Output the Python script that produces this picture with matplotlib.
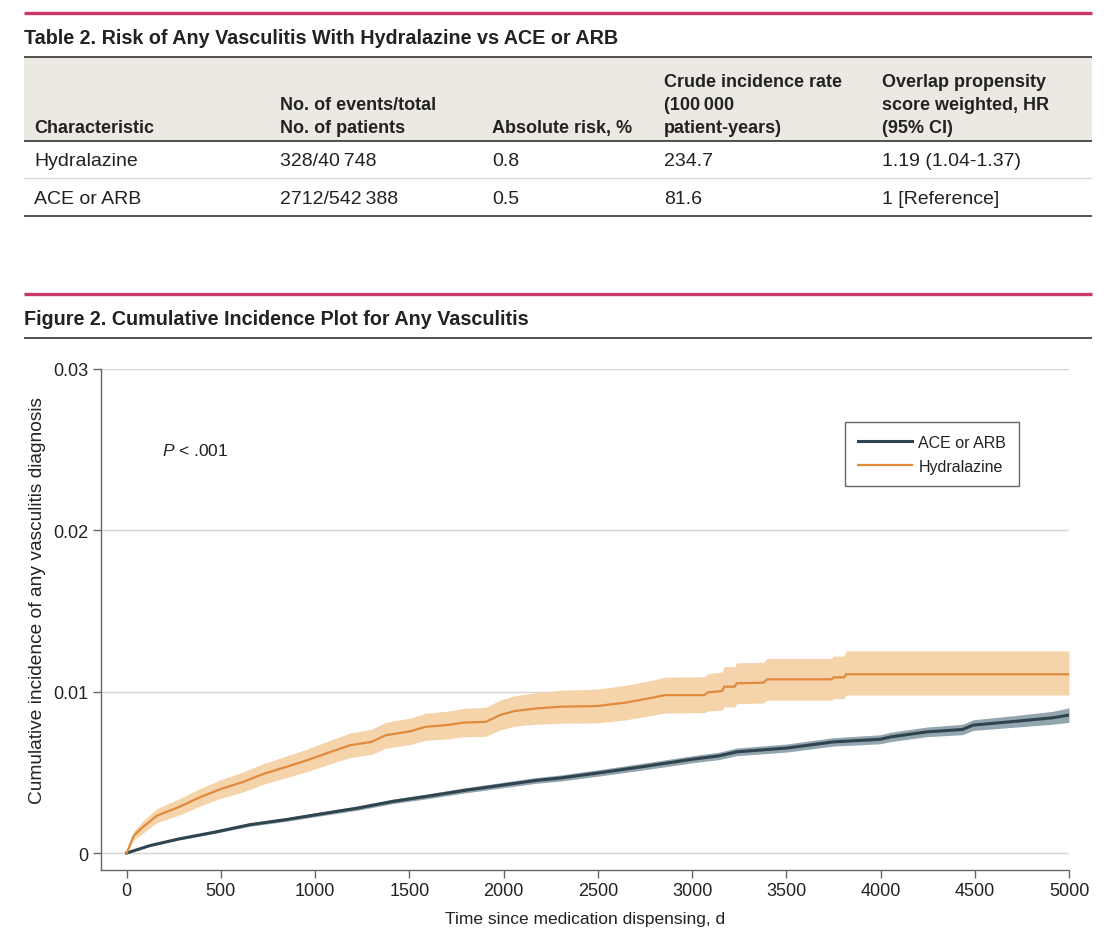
import matplotlib
matplotlib.use("Agg")
import matplotlib.pyplot as plt
from matplotlib.lines import Line2D
from matplotlib.patches import Rectangle
import numpy as np

# --- table values ---
tbl_header = [
    ["Characteristic"],
    ["No. of events/total", "No. of patients"],
    ["Absolute risk, %"],
    ["Crude incidence rate", "(100\u2009000", "patient-years)"],
    ["Overlap propensity", "score weighted, HR", "(95% CI)"],
]
tbl_rows = [
    ["Hydralazine", "328/40\u2009748", "0.8", "234.7", "1.19 (1.04-1.37)"],
    ["ACE or ARB", "2712/542\u2009388", "0.5", "81.6", "1 [Reference]"],
]

# --- curve values ---
hyd_t = [0, 38, 85, 161, 275, 389, 502, 616, 730, 844, 957, 1071, 1185, 1299, 1374,
         1507, 1583, 1697, 1791, 1905, 1981, 2057, 2171, 2300, 2494, 2646, 2799, 2856,
         3065, 3084, 3160, 3170, 3227, 3236, 3379, 3398, 3740, 3750, 3807, 3817, 5000]
hyd_v = [0, .00108, .0016, .00232, .00284, .00346, .00398, .0044, .00492, .00533, .00575,
         .00622, .00668, .00689, .0073, .00755, .00782, .00793, .00809, .00813, .00855,
         .0088, .00896, .00907, .00911, .00932, .00965, .00979, .00979, .00996, .01004,
         .01031, .01031, .01052, .01056, .01077, .01077, .01089, .01089, .01108, .01108]
hyd_lo = [0, .0008, .00122, .00188, .00234, .00292, .0034, .00378, .00428, .00466, .00505,
          .00549, .00592, .00611, .0065, .00673, .00698, .00707, .00721, .00723, .00763,
          .00786, .00798, .00805, .00806, .00825, .00856, .00868, .0087, .0088, .00886,
          .00906, .00906, .00925, .0093, .00948, .00948, .00957, .00957, .00979, .00979]
hyd_hi = [0, .00136, .00198, .00276, .00334, .004, .00456, .00502, .00556, .006, .00645,
          .00695, .00744, .00767, .0081, .00837, .00866, .00879, .00897, .00903, .00947,
          .00974, .00994, .01009, .01016, .01039, .01074, .0109, .01093, .01112, .01122,
          .01156, .01156, .01179, .01182, .01206, .01206, .01221, .01221, .01253, .01253]

ace_t = [0, 123, 275, 464, 654, 844, 1033, 1223, 1412, 1602, 1791, 1981, 2171, 2300, 2500,
         2723, 3000, 3141, 3236, 3503, 3750, 3997, 4054, 4245, 4435, 4492, 4720, 4911, 5000]
ace_v = [0, .00046, .00087, .00129, .00176, .00207, .00243, .00278, .0032, .00353, .00388,
         .00419, .0045, .00465, .00496, .00533, .00581, .00602, .00627, .00651, .00689,
         .00705, .0072, .00751, .00766, .00793, .00817, .00838, .00855]
ace_half = [0, .00004, .00006, .00008, .0001, .00011, .00012, .00013, .00014, .00015, .00016,
            .00017, .00018, .00019, .0002, .00021, .00022, .00023, .00024, .00025, .00026,
            .00028, .00029, .0003, .00032, .00033, .00036, .0004, .00045]

W, H = 1112, 945
FONT = ["Liberation Sans", "DejaVu Sans"]
CRIMSON = "#c8386a"
TXT = "#222222"

plt.rcParams["mathtext.fontset"] = "custom"
plt.rcParams["mathtext.it"] = "Liberation Sans:italic"
plt.rcParams["mathtext.rm"] = "Liberation Sans"

fig = plt.figure(figsize=(W / 100, H / 100), dpi=100)
renderer = fig.canvas.get_renderer()

def fx(x):
    return x / W

def fy(y):
    return 1 - y / H

def hline(y, x0, x1, color, lw):
    fig.add_artist(Line2D([fx(x0), fx(x1)], [fy(y), fy(y)], color=color, lw=lw,
                          transform=fig.transFigure, solid_capstyle="butt"))

def fit_text(x, y, s, width_px, **kw):
    # shrink/grow the font so the text spans width_px pixels like the reference
    t = fig.text(x, y, s, **kw)
    w = t.get_window_extent(renderer).width
    t.set_fontsize(t.get_fontsize() * width_px / w)
    return t

# Table 2
hline(13.8, 24, 1092, CRIMSON, 2.4)
ttl = fit_text(fx(24), fy(43.5), "Table 2. Risk of Any Vasculitis With Hydralazine vs ACE or ARB",
               594, family=FONT, weight="bold", fontsize=14, color=TXT, va="baseline")
fig.add_artist(Rectangle((fx(24), fy(142)), fx(1092) - fx(24), fy(58) - fy(142),
                         transform=fig.transFigure, color="#ebe9e2", lw=0))
hline(57.5, 24, 1092, "#333333", 1.2)
hline(142, 24, 1092, "#333333", 1.2)
hline(179, 24, 1092, "#d8d8d8", 1.0)
hline(217, 24, 1092, "#333333", 1.2)

col_x = [34, 280, 492, 664, 882]
base_lines = [87, 110, 133]
for cx, lines in zip(col_x, tbl_header):
    for k, s in enumerate(lines):
        yb = base_lines[3 - len(lines) + k]
        fig.text(fx(cx), fy(yb), s, family=FONT, weight="bold", fontsize=13,
                 color=TXT, va="baseline")
for yb, row in zip([166.5, 204], tbl_rows):
    for cx, s in zip(col_x, row):
        fig.text(fx(cx), fy(yb), s, family=FONT, fontsize=14, color=TXT, va="baseline")

# Figure 2
hline(294.5, 24, 1092, CRIMSON, 2.4)
fig.text(fx(24), fy(325), "Figure 2. Cumulative Incidence Plot for Any Vasculitis",
         family=FONT, weight="bold", fontsize=ttl.get_fontsize(), color=TXT, va="baseline")
hline(339, 24, 1092, "#333333", 1.2)

ax = fig.add_axes([fx(101), fy(871), fx(1069) - fx(101), fy(370) - fy(871)])
ORANGE = "#e08a3c"
DARK = "#2f444e"

ace_v_a = np.array(ace_v)
ace_h_a = np.array(ace_half)
ax.fill_between(ace_t, ace_v_a - ace_h_a, ace_v_a + ace_h_a, color="#93a6b0", lw=0, zorder=2)
ax.plot(ace_t, ace_v, color=DARK, lw=2.2, zorder=3, label="ACE or ARB")
ax.fill_between(hyd_t, hyd_lo, hyd_hi, color="#f5d4ac", lw=0, zorder=2)
ax.plot(hyd_t, hyd_v, color=ORANGE, lw=1.6, zorder=3, label="Hydralazine")

ax.set_xlim(-136, 5000)
ax.set_ylim(-0.00105, 0.03)
ax.set_xticks(np.arange(0, 5001, 500))
ax.set_yticks([0, 0.01, 0.02, 0.03])
ax.set_yticklabels(["0", "0.01", "0.02", "0.03"])
for yv in [0, 0.01, 0.02, 0.03]:
    ax.axhline(yv, color="#d5d5d5", lw=1, zorder=1)
for s in ["top", "right"]:
    ax.spines[s].set_visible(False)
for s in ["left", "bottom"]:
    ax.spines[s].set_color("#666666")
    ax.spines[s].set_linewidth(1)
ax.tick_params(length=6, width=1, color="#666666", labelsize=13, labelcolor=TXT, pad=3)
for lab in ax.get_xticklabels() + ax.get_yticklabels():
    lab.set_family(FONT)
ax.set_xlabel("Time since medication dispensing, d", family=FONT, fontsize=12.5,
              color=TXT, labelpad=8)
ax.set_ylabel("Cumulative incidence of any vasculitis diagnosis", family=FONT,
              fontsize=13.8, color=TXT)
ax.yaxis.set_label_coords(-0.057, 0.539)
ax.text(190, 0.025, r"$P$ < .001", family=FONT, fontsize=12.5, color=TXT, va="center")

leg = ax.legend(loc="upper left", bbox_to_anchor=(0.7686, 0.894), borderaxespad=0,
                frameon=True, fancybox=False, framealpha=1, edgecolor="#666666",
                prop={"family": FONT, "size": 11.5}, handlelength=3.4,
                borderpad=0.8, labelspacing=0.55, handletextpad=0.4)
leg.get_frame().set_linewidth(1)
for t in leg.get_texts():
    t.set_color(TXT)

fig.savefig("out.png", dpi=100)
